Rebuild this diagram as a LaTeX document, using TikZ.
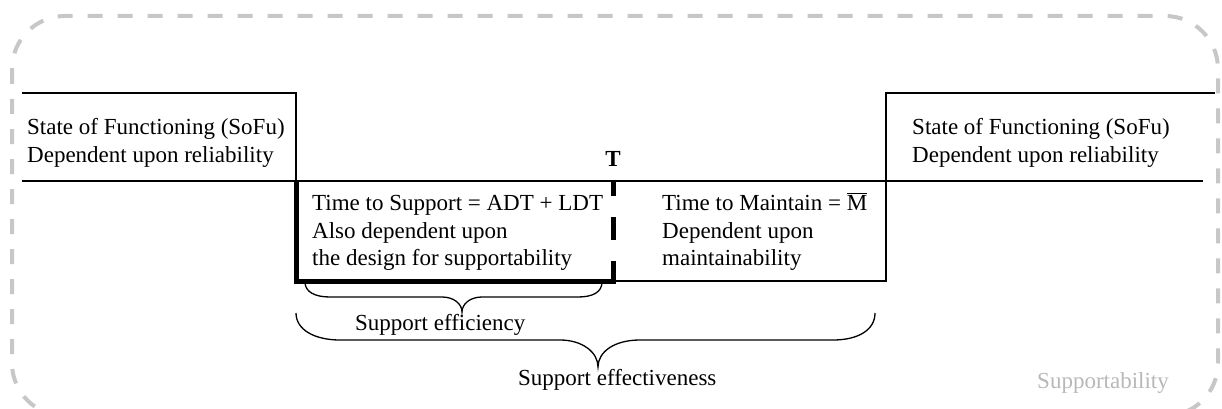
\documentclass[tikz,border=0pt]{standalone}
\usepackage{fontspec}
\setmainfont{Liberation Serif}
\begin{document}
\begin{tikzpicture}[x=1pt,y=-1pt,
  frame/.style={draw=black!22, line width=4pt, dash pattern=on 15pt off 15pt, rounded corners=53pt},
  rule/.style={line width=1.4pt},
  heavy/.style={line width=5pt},
  brace/.style={line width=1.3pt},
  lbl/.style={inner sep=0pt, anchor=base west, font=\fontsize{23}{27}\selectfont},
  note/.style={lbl, text=black!28}]
\useasboundingbox (0,0) rectangle (1222,409);

% outer dashed frame
\draw[frame] (12,16) rectangle (1218,416);

% time line and the two functioning states
\draw[rule] (22,93) -- (296,93) -- (296,181);
\draw[rule] (22,181) -- (1203,181);
\draw[rule] (1215,93) -- (886,93) -- (886,281) -- (613,281);

% time to support (heavy outline) and the dashed marker T
\draw[heavy, line join=miter] (296,181) -- (296,281) -- (615.5,281);
\draw[heavy, dash pattern=on 23pt off 21pt] (613,283.5) -- (613,181);

% labels
\node[lbl] (sofuL1) at (27,135) {State of Functioning (SoFu)};
\node[lbl] (sofuL2) at (27,162) {Dependent upon reliability};
\node[lbl] (sofuR1) at (912,135) {State of Functioning (SoFu)};
\node[lbl] (sofuR2) at (912,162) {Dependent upon reliability};
\node[lbl, anchor=base, font=\fontsize{23}{27}\selectfont\bfseries] (tmark) at (613,166) {T};

\node[lbl] (tts1) at (312,210) {Time to Support = ADT + LDT};
\node[lbl] (tts2) at (312,238) {Also dependent upon};
\node[lbl] (tts3) at (312,265) {the design for supportability};

\node[lbl] (ttm1) at (662,210) {Time to Maintain = $\overline{\hbox{M}}$};
\node[lbl] (ttm2) at (662,238) {Dependent upon};
\node[lbl] (ttm3) at (662,265) {maintainability};

% braces
\draw[brace] (305,282) .. controls (305,292) and (315,297) .. (330,297) -- (442,297)
  .. controls (454,297) and (462,304) .. (462,312)
  .. controls (462,304) and (470,297) .. (482,297) -- (578,297)
  .. controls (593,297) and (602,292) .. (602,282);
\coordinate (effTip) at (462,312);
\node[lbl] (eff) at (355,330) {Support efficiency};

\draw[brace] (296,313) .. controls (296,330) and (315,340) .. (340,340) -- (560,340)
  .. controls (582,340) and (598,352) .. (598,367)
  .. controls (598,352) and (614,340) .. (640,340) -- (833,340)
  .. controls (858,340) and (875,330) .. (875,313);
\coordinate (effvTip) at (598,367);
\node[lbl] (effv) at (518,385) {Support effectiveness};

\node[note] (supp) at (1037,388) {Supportability};
\end{tikzpicture}
\end{document}
